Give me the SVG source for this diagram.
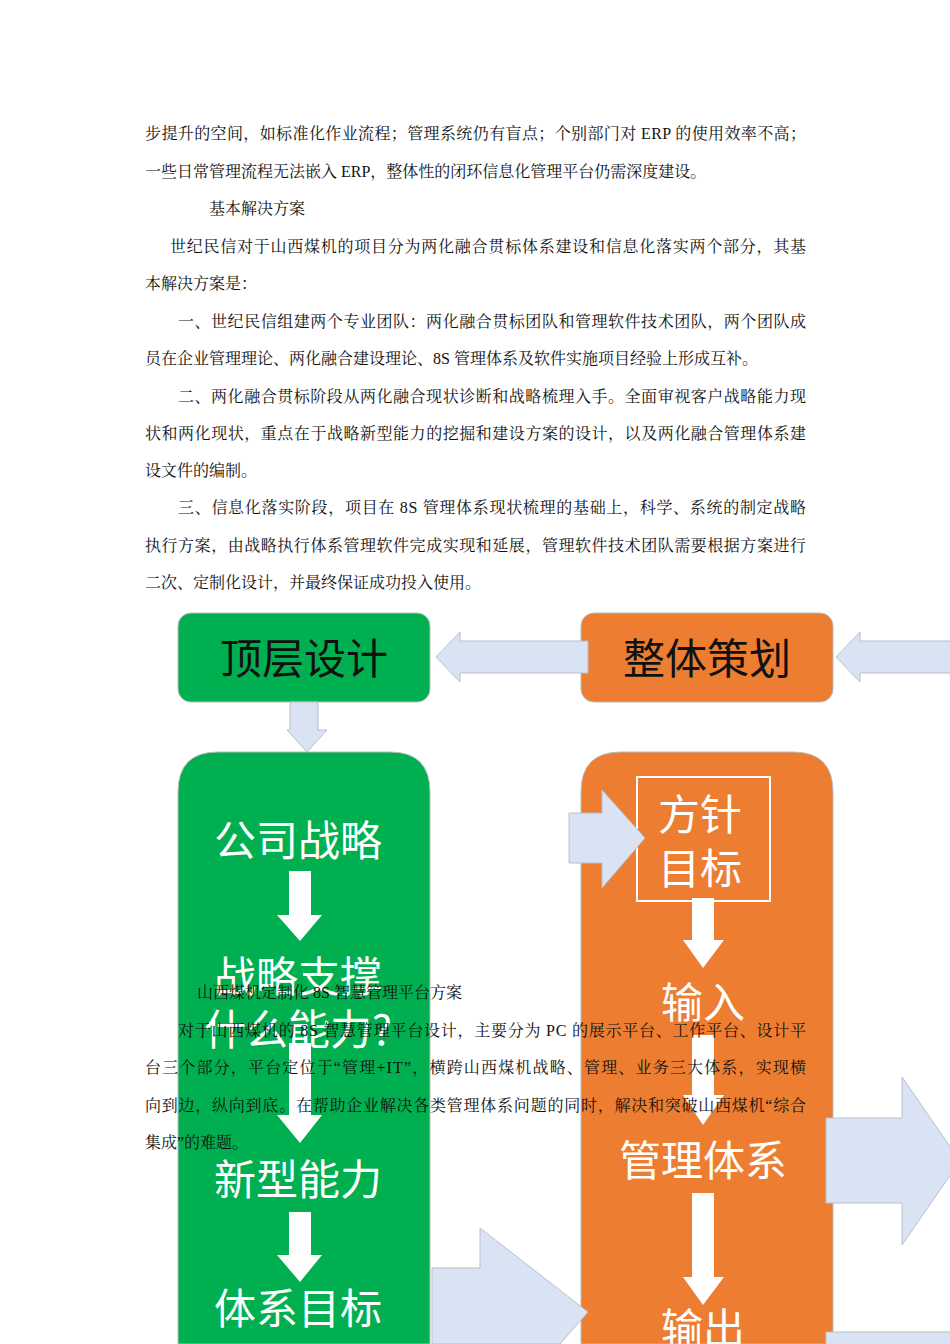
<svg xmlns="http://www.w3.org/2000/svg" width="950" height="1344" viewBox="0 0 950 1344">
<style>
.p{font-family:"Liberation Serif","Noto Serif CJK SC","Noto Sans CJK SC",serif;font-size:16px;fill:#111}
.big{font-family:"Noto Sans CJK SC",sans-serif;font-size:42px;text-anchor:middle}
.w{fill:#fff}
.k{fill:#111}
.la{fill:#dae3f3;stroke:#b8bfcc;stroke-width:1}
.wa{fill:#fff}
</style>
<rect width="950" height="1344" fill="#fff"/>
<g id="text-top">
<text class="p" x="145" y="139" textLength="661" lengthAdjust="spacing">步提升的空间，如标准化作业流程；管理系统仍有盲点；个别部门对 ERP 的使用效率不高；</text>
<text class="p" x="145" y="177">一些日常管理流程无法嵌入 ERP，整体性的闭环信息化管理平台仍需深度建设。</text>
<text class="p" x="209" y="214">基本解决方案</text>
<text class="p" x="170" y="252" textLength="636" lengthAdjust="spacing">世纪民信对于山西煤机的项目分为两化融合贯标体系建设和信息化落实两个部分，其基</text>
<text class="p" x="145" y="289">本解决方案是：</text>
<text class="p" x="178" y="327" textLength="628" lengthAdjust="spacing">一、世纪民信组建两个专业团队：两化融合贯标团队和管理软件技术团队，两个团队成</text>
<text class="p" x="145" y="364">员在企业管理理论、两化融合建设理论、8S 管理体系及软件实施项目经验上形成互补。</text>
<text class="p" x="178" y="402" textLength="628" lengthAdjust="spacing">二、两化融合贯标阶段从两化融合现状诊断和战略梳理入手。全面审视客户战略能力现</text>
<text class="p" x="145" y="439" textLength="661" lengthAdjust="spacing">状和两化现状，重点在于战略新型能力的挖掘和建设方案的设计，以及两化融合管理体系建</text>
<text class="p" x="145" y="476">设文件的编制。</text>
<text class="p" x="178" y="513" textLength="628" lengthAdjust="spacing">三、信息化落实阶段，项目在 8S 管理体系现状梳理的基础上，科学、系统的制定战略</text>
<text class="p" x="145" y="551" textLength="661" lengthAdjust="spacing">执行方案，由战略执行体系管理软件完成实现和延展，管理软件技术团队需要根据方案进行</text>
<text class="p" x="145" y="588">二次、定制化设计，并最终保证成功投入使用。</text>
</g>
<g id="node-top-design"><rect x="178" y="613" width="252" height="89" rx="13" fill="#00b050" stroke="#bbb"/><text class="big k" x="304" y="674">顶层设计</text></g>
<g id="node-overall"><rect x="581" y="613" width="252" height="89" rx="13" fill="#ed7d31" stroke="#bbb"/><text class="big k" x="707" y="674">整体策划</text></g>
<g id="node-green"><path d="M178 1344 V792 Q178 752 218 752 H390 Q430 752 430 792 V1344 Z" fill="#00b050" stroke="#bbb"/>
<text class="big w" x="298" y="856">公司战略</text>
<text class="big w" x="298" y="992">战略支撑</text>
<text class="big w" x="298" y="1045">什么能力?</text>
<text class="big w" x="298" y="1195">新型能力</text>
<text class="big w" x="298" y="1324">体系目标</text></g>
<g id="node-orange"><path d="M581 1344 V792 Q581 752 621 752 H793 Q833 752 833 792 V1344 Z" fill="#ed7d31" stroke="#bbb"/>
<rect x="637" y="777" width="133" height="124" fill="none" stroke="#fff" stroke-width="2"/>
<text class="big w" x="700" y="830">方针</text>
<text class="big w" x="700" y="884">目标</text>
<text class="big w" x="703" y="1018">输入</text>
<text class="big w" x="703" y="1176">管理体系</text>
<text class="big w" x="703" y="1344">输出</text></g>
<g id="connectors">
<path class="la" d="M588 641 H460 V632 L436 657 L460 682 V673 H588 Z"/>
<path class="la" d="M951 641 H860 V632 L836 657 L860 682 V673 H951 Z"/>
<path class="la" d="M290 702 H318 V730 H327 L307 752 L287 730 H290 Z"/>
<path class="la" d="M569 813 H602 V790 L645 838 L602 888 V863 H569 Z"/>
<path class="la" d="M826 1118 H902 V1077 L960 1161 L902 1245 V1203 H826 Z"/>
<path class="la" d="M432 1268 H480 V1228 L588 1312 L560 1344 H432 Z"/>
<rect class="la" x="826" y="1332" width="130" height="20"/>
<path class="wa" d="M289 871 H311 V915 H322 L300 941 L277 915 H289 Z"/>
<path class="wa" d="M289 1043 H311 V1115 H322 L300 1143 L277 1115 H289 Z"/>
<path class="wa" d="M289 1212 H311 V1255 H322 L300 1282 L277 1255 H289 Z"/>
<path class="wa" d="M692 898 H714 V940 H724 L703 968 L683 940 H692 Z"/>
<path class="wa" d="M692 1035 H714 V1095 H724 L703 1125 L683 1095 H692 Z"/>
<path class="wa" d="M692 1193 H714 V1277 H724 L703 1305 L683 1277 H692 Z"/>
</g>
<g id="text-overlay">
<text class="p" x="197" y="998">山西煤机定制化 8S 智慧管理平台方案</text>
<text class="p" x="178" y="1036" textLength="628" lengthAdjust="spacing">对于山西煤机的 8S 智慧管理平台设计，主要分为 PC 的展示平台、工作平台、设计平</text>
<text class="p" x="145" y="1073" textLength="661" lengthAdjust="spacing">台三个部分，平台定位于“管理+IT”，横跨山西煤机战略、管理、业务三大体系，实现横</text>
<text class="p" x="145" y="1111" textLength="661" lengthAdjust="spacing">向到边，纵向到底。在帮助企业解决各类管理体系问题的同时，解决和突破山西煤机“综合</text>
<text class="p" x="145" y="1148">集成”的难题。</text>
</g>
</svg>
